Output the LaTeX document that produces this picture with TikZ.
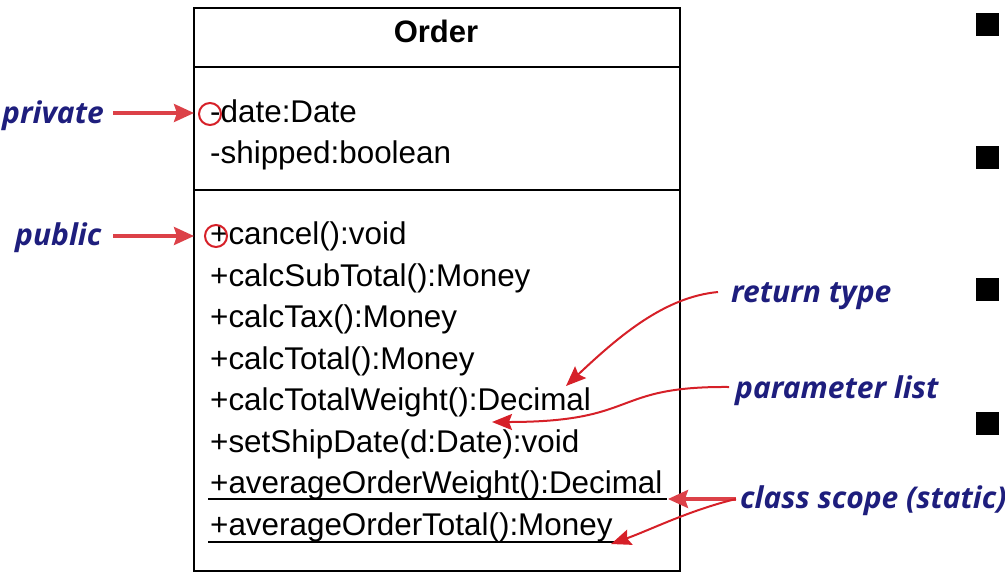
\documentclass[tikz,border=0pt]{standalone}
\usepackage{fontspec}
\setmainfont{Liberation Sans}
\newfontfamily\notefont{Open Sans}
\usetikzlibrary{arrows.meta}
\definecolor{notered}{RGB}{214,32,40}
\definecolor{noteblue}{RGB}{30,30,125}
\tikzset{
  member/.style={anchor=base west, inner sep=0pt, font=\fontsize{31.4}{36}\selectfont},
  titletext/.style={anchor=base, inner sep=0pt, font=\fontsize{31}{36}\selectfont\bfseries},
  notetext/.style={inner sep=0pt, text=noteblue, font=\notefont\fontsize{30}{34}\selectfont\bfseries\itshape},
  thickarrow/.style={draw=notered!85, line width=3.5pt, -{Stealth[length=20pt, width=18pt, inset=3pt]}},
  thinarrow/.style={draw=notered, line width=2pt, -{Stealth[length=20pt, width=16pt, inset=3pt]}},
  marker/.style={draw=notered, line width=2pt, circle, minimum size=22pt, inner sep=0pt},
  bullet/.style={fill=black, minimum size=23pt, inner sep=0pt},
  frame/.style={line width=2pt},
  staticline/.style={line width=2pt},
}
\begin{document}
\begin{tikzpicture}[x=1pt,y=-1pt]
\useasboundingbox (0,0) rectangle (1005,571);
\clip (0,0) rectangle (1005,571);

% class box
\node[draw, frame, anchor=north west, minimum width=486pt, minimum height=563pt, inner sep=0pt] (cls) at (193,7) {};
\draw[frame] (193,67) -- (679,67);
\draw[frame] (193,190) -- (679,190);

\node[titletext] (title) at (436,42) {Order};

% attributes
\node[member] (a1) at (210,122) {-date:Date};
\node[member] (a2) at (210,163) {-shipped:boolean};

% operations
\node[member] (o1) at (210,244) {+cancel():void};
\node[member] (o2) at (210,286) {+calcSubTotal():Money};
\node[member] (o3) at (210,327) {+calcTax():Money};
\node[member] (o4) at (210,369) {+calcTotal():Money};
\node[member] (o5) at (210,410) {+calcTotalWeight():Decimal};
\node[member] (o6) at (210,452) {+setShipDate(d:Date):void};
\node[member] (o7) at (210,493) {+averageOrderWeight():Decimal};
\node[member] (o8) at (210,535) {+averageOrderTotal():Money};
\draw[staticline] ([xshift=-2pt,yshift=-6pt]o7.base west) -- ([xshift=4pt,yshift=-6pt]o7.base east);
\draw[staticline] ([xshift=-2pt,yshift=-7pt]o8.base west) -- ([xshift=4pt,yshift=-7pt]o8.base east);

% markers
\node[marker] (mpriv) at (210,114) {};
\node[marker] (mpub) at (216,236) {};

% bullets
\node[bullet] (b1) at (987.5,24.5) {};
\node[bullet] (b2) at (987.5,157.5) {};
\node[bullet] (b3) at (987.5,289.5) {};
\node[bullet] (b4) at (987.5,423) {};

% notes
\node[notetext, anchor=base east] (private) at (104,123) {private};
\node[notetext, anchor=base west] (public) at (15,245) {public};
\node[notetext, anchor=base west] (rettype) at (731,302) {return type};
\node[notetext, anchor=base west] (params) at (735,398) {parameter list};
\node[notetext, anchor=base west] (scope) at (740,508) {class scope (static)};

% arrow ends
\coordinate (pvS) at (113,113);
\coordinate (pvT) at (194,113);
\coordinate (pbS) at (113,236);
\coordinate (pbT) at (194,236);
\coordinate (rtS) at (718,292);
\coordinate (rtT) at (566,386);
\coordinate (plS) at (729,387);
\coordinate (plT) at (492,422);
\coordinate (csS) at (736,499);
\coordinate (csT1) at (668,499);
\coordinate (csT2) at (611,544);

\draw[thickarrow] (pvS) -- (pvT);
\draw[thickarrow] (pbS) -- (pbT);
\draw[thinarrow] (rtS) .. controls (665,297) and (620,335) .. (rtT);
\draw[thinarrow] (plS) .. controls (610,386) and (640,422) .. (plT);
\draw[thickarrow] (csS) -- (csT1);
\draw[thinarrow] (csS) .. controls (690,510) and (650,530) .. (csT2);
\end{tikzpicture}
\end{document}
